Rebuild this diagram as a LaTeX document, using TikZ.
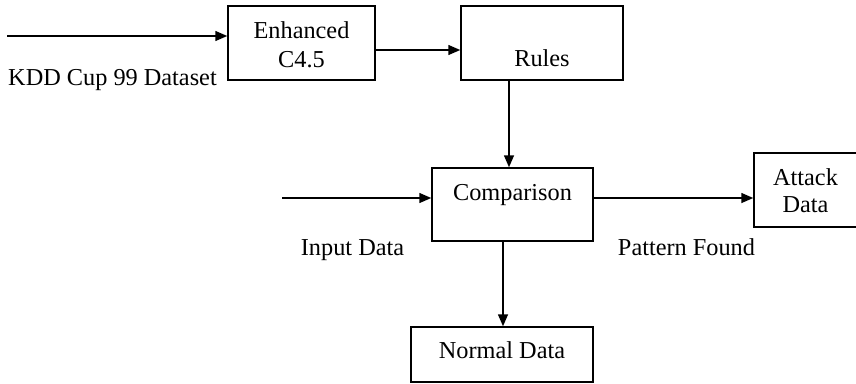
\documentclass[tikz,border=0pt]{standalone}
\usepackage{fontspec}
\setmainfont{Liberation Serif}
\usetikzlibrary{arrows.meta}
\begin{document}
\begin{tikzpicture}[x=1pt,y=-1pt,
  line width=1.5pt,
  font=\fontsize{24.3}{29}\selectfont,
  block/.style={draw, rectangle, inner sep=0pt},
  txt/.style={anchor=base, inner sep=0pt, align=center},
  flow/.style={-{Triangle[length=12pt,width=10pt]}}]
  \useasboundingbox (0,0) rectangle (856,383);

  % boxes
  \node[block, minimum width=147pt, minimum height=74pt] (c45)    at (301.5,43) {};
  \node[block, minimum width=162pt, minimum height=74pt] (rules)  at (542,43) {};
  \node[block, minimum width=161pt, minimum height=73pt] (cmp)    at (512.5,204.5) {};
  \node[block, minimum width=103pt, minimum height=74pt] (attack) at (805.5,190) {};
  \node[block, minimum width=182pt, minimum height=55pt] (normal) at (502,354.5) {};

  % box captions
  \node[txt] (t1) at (301.5,38) {Enhanced};
  \node[txt] (t2) at (301.5,67) {C4.5};
  \node[txt] (t3) at (542,66) {Rules};
  \node[txt] (t4) at (512.5,200) {Comparison};
  \node[txt] (t5) at (805.5,185) {Attack};
  \node[txt] (t6) at (805.5,212) {Data};
  \node[txt] (t7) at (502,358) {Normal Data};

  % free labels
  \node[txt] (lkdd) at (112.5,85) {KDD Cup 99 Dataset};
  \node[txt] (lin)  at (352.5,255) {Input Data};
  \node[txt] (lpat) at (686.5,255) {Pattern Found};

  % loose ends of incoming arrows
  \coordinate (kddin) at (7,36);
  \coordinate (datain) at (282,198);

  % connectors
  \draw[flow] (kddin) -- (kddin -| c45.west);
  \draw[flow] (c45.east |- 0,50) -- (rules.west |- 0,50);
  \draw[flow] (rules.south -| 509,0) -- (cmp.north -| 509,0);
  \draw[flow] (datain) -- (datain -| cmp.west);
  \draw[flow] (cmp.east |- 0,198) -- (attack.west |- 0,198);
  \draw[flow] (cmp.south -| 503,0) -- (normal.north -| 503,0);
\end{tikzpicture}
\end{document}
